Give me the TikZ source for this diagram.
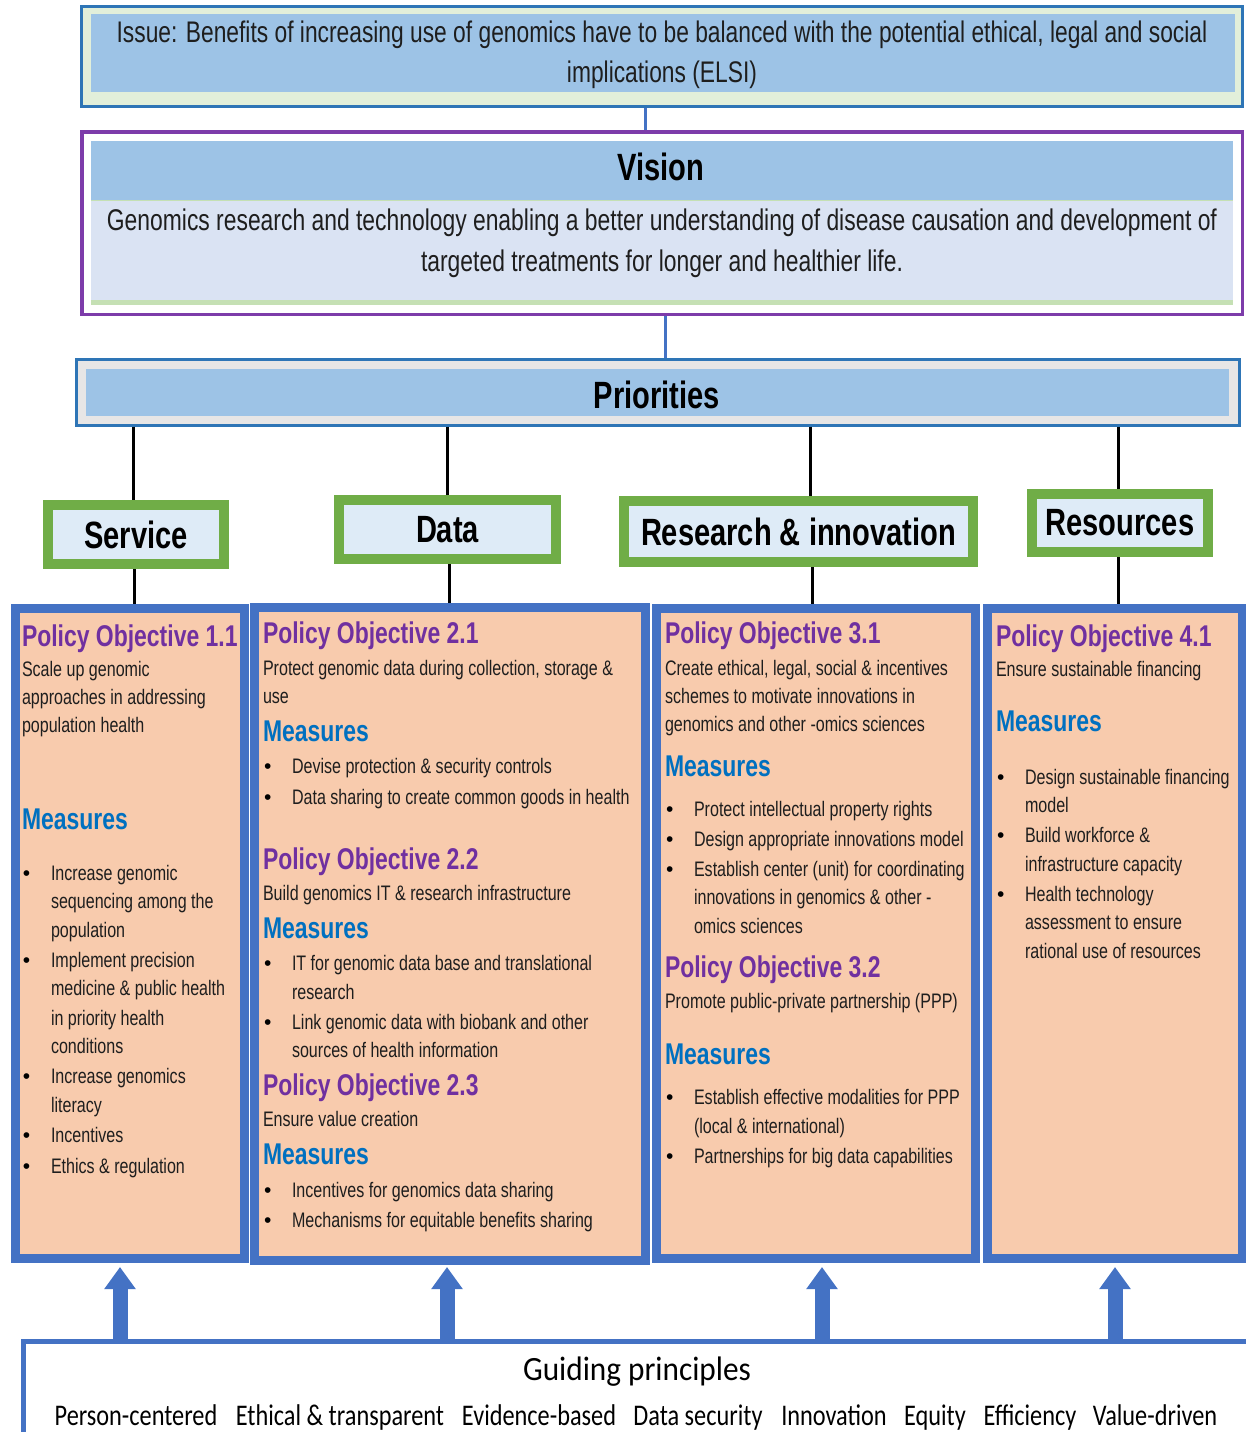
\documentclass[tikz,border=0pt]{standalone}
\usepackage{fontspec}
\setmainfont{Liberation Sans}
\newfontfamily\nar{Liberation Sans}[FakeStretch=0.765]
\newfontfamily\carlA{Carlito}[FakeStretch=0.92]
\newfontfamily\carlB{Carlito}[FakeStretch=0.81]
\usetikzlibrary{arrows.meta}
\definecolor{issueblue}{RGB}{46,117,182}
\definecolor{issuegreen}{RGB}{226,239,218}
\definecolor{midblue}{RGB}{157,195,230}
\definecolor{visionpurple}{RGB}{125,60,170}
\definecolor{lavender}{RGB}{218,227,243}
\definecolor{lightgreen}{RGB}{197,224,180}
\definecolor{priogrey}{RGB}{231,230,230}
\definecolor{catgreen}{RGB}{112,173,71}
\definecolor{catfill}{RGB}{222,235,247}
\definecolor{colblue}{RGB}{68,114,196}
\definecolor{peach}{RGB}{248,203,173}
\definecolor{purp}{RGB}{112,48,160}
\definecolor{measblue}{RGB}{0,112,192}
\definecolor{bodytxt}{RGB}{30,30,30}
\newcommand\BL[5]{\node[bul] (#1b) at (#2,#4) {\textbullet}; \node[body] (#1) at (#3,#4) {#5};}
\begin{document}
\begin{tikzpicture}[x=1pt,y=-1pt,
  box/.style={rectangle,inner sep=0,outer sep=0},
  body/.style={anchor=base west,inner sep=0,outer sep=0,font=\nar\fontsize{21}{25}\selectfont,text=bodytxt},
  bul/.style={anchor=base west,inner sep=0,outer sep=0,font=\fontsize{21}{25}\selectfont,text=black},
  pot/.style={anchor=base west,inner sep=0,outer sep=0,font=\nar\bfseries\fontsize{30}{34}\selectfont,text=purp},
  meas/.style={anchor=base west,inner sep=0,outer sep=0,font=\nar\bfseries\fontsize{30}{34}\selectfont,text=measblue},
  catbox/.style={box,draw=catgreen,line width=10pt,fill=catfill,outer sep=5pt,font=\nar\bfseries\fontsize{38}{42}\selectfont},
  colbox/.style={box,draw=colblue,line width=9pt,fill=peach,outer sep=4.5pt},
  blackline/.style={draw=black,line width=3pt},
  blueline/.style={draw=colblue,line width=3pt},
  bigarrow/.style={draw=colblue,line width=15pt,-{Triangle[width=30pt,length=22pt]}},
  gpword/.style={anchor=base,inner sep=0,font=\carlB\fontsize{30}{34}\selectfont,text=black}
]
\useasboundingbox (0,0) rectangle (1246,1432);
\fill[white] (0,0) rectangle (1246,1432);

% ---------- Issue ----------
\node[box,draw=issueblue,line width=3pt,fill=issuegreen,minimum width=1161pt,minimum height=100pt,outer sep=1.5pt] (issue) at (662,56.5) {};
\node[box,fill=midblue,minimum width=1144pt,minimum height=78pt] (issuein) at (663,53) {};
\node[inner sep=0,align=center,font=\nar\fontsize{29.8}{40}\selectfont,text=bodytxt] (issuetxt) at (662,55)
  {Issue: Benefits of increasing use of genomics have to be balanced with the potential ethical, legal and social\\implications (ELSI)};

% ---------- Vision ----------
\node[box,draw=visionpurple,line width=3.5pt,fill=white,minimum width=1160.5pt,minimum height=182.5pt,outer sep=1.75pt] (vision) at (662,223) {};
\node[box,fill=lightgreen,minimum width=1142pt,minimum height=164pt] (visionbg) at (661.5,223) {};
\node[box,fill=lavender,minimum width=1142pt,minimum height=99pt] (visionlow) at (661.5,250.5) {};
\node[box,fill=midblue,minimum width=1142pt,minimum height=59pt] (visionhead) at (661.5,170.5) {};
\node[inner sep=0,font=\nar\bfseries\fontsize{38}{42}\selectfont,text=black] (visiontitle) at (661,167) {Vision};
\node[inner sep=0,align=center,font=\nar\fontsize{29.9}{41}\selectfont,text=bodytxt] (visiontxt) at (662,243)
  {Genomics research and technology enabling a better understanding of disease causation and development of\\targeted treatments for longer and healthier life.};

% ---------- Priorities ----------
\node[box,draw=issueblue,line width=3pt,fill=priogrey,minimum width=1163pt,minimum height=66pt,outer sep=1.5pt] (prio) at (657.5,392) {};
\node[box,fill=midblue,minimum width=1143pt,minimum height=47pt] (prioin) at (657.5,392.5) {};
\node[inner sep=0,font=\nar\bfseries\fontsize{38}{42}\selectfont,text=black] (priotitle) at (657,395) {Priorities};

\draw[blueline] (issue.south -| 645,0) -- (vision.north -| 645,0);
\draw[blueline] (vision.south -| 665,0) -- (prio.north -| 665,0);

% ---------- Categories ----------
\node[catbox,minimum width=176pt,minimum height=59pt] (svc) at (136,534.5) {Service};
\node[catbox,minimum width=217pt,minimum height=59pt] (data) at (447.5,529.5) {Data};
\node[catbox,minimum width=349pt,minimum height=61pt] (res) at (798.5,531.5) {Research \& innovation};
\node[catbox,minimum width=176pt,minimum height=58pt] (rsc) at (1120,523) {Resources};

\coordinate (p1) at (133,0);
\coordinate (p2) at (447,0);
\coordinate (p3) at (810,0);
\coordinate (p4) at (1118,0);
\draw[blackline] (prio.south -| p1) -- (svc.north -| p1);
\draw[blackline] (prio.south -| p2) -- (data.north -| p2);
\draw[blackline] (prio.south -| p3) -- (res.north -| p3);
\draw[blackline] (prio.south -| p4) -- (rsc.north -| p4);

% ---------- Columns ----------
\node[colbox,minimum width=229pt,minimum height=650pt] (col1) at (129.5,933.5) {};
\node[colbox,minimum width=391pt,minimum height=653pt] (col2) at (449.5,934) {};
\node[colbox,minimum width=319pt,minimum height=650pt] (col3) at (816,933.5) {};
\node[colbox,minimum width=255pt,minimum height=650pt] (col4) at (1115,933.5) {};

\coordinate (q1) at (134,0);
\coordinate (q2) at (449,0);
\coordinate (q3) at (812,0);
\coordinate (q4) at (1118,0);
\draw[blackline] (svc.south -| q1) -- (col1.north -| q1);
\draw[blackline] (data.south -| q2) -- (col2.north -| q2);
\draw[blackline] (res.south -| q3) -- (col3.north -| q3);
\draw[blackline] (rsc.south -| q4) -- (col4.north -| q4);

% ---------- Column 1 ----------
\node[pot] (po11) at (22,646) {Policy Objective 1.1};
\node[body] (c1a) at (22,676) {Scale up genomic};
\node[body] (c1b) at (22,704) {approaches in addressing};
\node[body] (c1c) at (22,732) {population health};
\node[meas] (m11) at (22,829) {Measures};
\BL{c1d}{23}{51}{880}{Increase genomic}
\node[body] (c1e) at (51,908) {sequencing among the};
\node[body] (c1f) at (51,937) {population};
\BL{c1g}{23}{51}{967}{Implement precision}
\node[body] (c1h) at (51,995) {medicine \& public health};
\node[body] (c1i) at (51,1025) {in priority health};
\node[body] (c1j) at (51,1053) {conditions};
\BL{c1k}{23}{51}{1083}{Increase genomics}
\node[body] (c1l) at (51,1112) {literacy};
\BL{c1m}{23}{51}{1142}{Incentives}
\BL{c1n}{23}{51}{1173}{Ethics \& regulation}

% ---------- Column 2 ----------
\node[pot] (po21) at (263,643) {Policy Objective 2.1};
\node[body] (c2a) at (263,675) {Protect genomic data during collection, storage \&};
\node[body] (c2b) at (263,703) {use};
\node[meas] (m21) at (263,741) {Measures};
\BL{c2c}{264}{292}{773}{Devise protection \& security controls}
\BL{c2d}{264}{292}{804}{Data sharing to create common goods in health}
\node[pot] (po22) at (263,869) {Policy Objective 2.2};
\node[body] (c2e) at (263,900) {Build genomics IT \& research infrastructure};
\node[meas] (m22) at (263,938) {Measures};
\BL{c2f}{264}{292}{970}{IT for genomic data base and translational}
\node[body] (c2g) at (292,999) {research};
\BL{c2h}{264}{292}{1029}{Link genomic data with biobank and other}
\node[body] (c2i) at (292,1057) {sources of health information};
\node[pot] (po23) at (263,1095) {Policy Objective 2.3};
\node[body] (c2j) at (263,1126) {Ensure value creation};
\node[meas] (m23) at (263,1164) {Measures};
\BL{c2k}{264}{292}{1197}{Incentives for genomics data sharing}
\BL{c2l}{264}{292}{1227}{Mechanisms for equitable benefits sharing}

% ---------- Column 3 ----------
\node[pot] (po31) at (665,643) {Policy Objective 3.1};
\node[body] (c3a) at (665,675) {Create ethical, legal, social \& incentives};
\node[body] (c3b) at (665,703) {schemes to motivate innovations in};
\node[body] (c3c) at (665,731) {genomics and other -omics sciences};
\node[meas] (m31) at (665,776) {Measures};
\BL{c3d}{666}{694}{816}{Protect intellectual property rights}
\BL{c3e}{666}{694}{846}{Design appropriate innovations model}
\BL{c3f}{666}{694}{876}{Establish center (unit) for coordinating}
\node[body] (c3g) at (694,904) {innovations in genomics \& other -};
\node[body] (c3h) at (694,933) {omics sciences};
\node[pot] (po32) at (665,977) {Policy Objective 3.2};
\node[body] (c3i) at (665,1008) {Promote public-private partnership (PPP)};
\node[meas] (m32) at (665,1064) {Measures};
\BL{c3j}{666}{694}{1104}{Establish effective modalities for PPP}
\node[body] (c3k) at (694,1133) {(local \& international)};
\BL{c3l}{666}{694}{1163}{Partnerships for big data capabilities}

% ---------- Column 4 ----------
\node[pot] (po41) at (996,646) {Policy Objective 4.1};
\node[body] (c4a) at (996,676) {Ensure sustainable financing};
\node[meas] (m41) at (996,731) {Measures};
\BL{c4b}{997}{1025}{784}{Design sustainable financing}
\node[body] (c4c) at (1025,812) {model};
\BL{c4d}{997}{1025}{842}{Build workforce \&}
\node[body] (c4e) at (1025,871) {infrastructure capacity};
\BL{c4f}{997}{1025}{901}{Health technology}
\node[body] (c4g) at (1025,929) {assessment to ensure};
\node[body] (c4h) at (1025,958) {rational use of resources};

% ---------- Guiding principles ----------
\node[box,draw=colblue,line width=5pt,minimum width=1260pt,minimum height=200pt,outer sep=2.5pt,anchor=north west] (gp) at (20.5,1339) {};
\coordinate (a1) at (120,1267);
\coordinate (a2) at (447,1267);
\coordinate (a3) at (822,1267);
\coordinate (a4) at (1115,1267);
\draw[bigarrow] (gp.north -| a1) -- (a1);
\draw[bigarrow] (gp.north -| a2) -- (a2);
\draw[bigarrow] (gp.north -| a3) -- (a3);
\draw[bigarrow] (gp.north -| a4) -- (a4);
\node[anchor=base,inner sep=0,font=\carlA\fontsize{34}{38}\selectfont,text=black] (gptitle) at (637,1380) {Guiding principles};
\node[gpword] (g1) at (136,1425) {Person-centered};
\node[gpword] (g2) at (340,1425) {Ethical \& transparent};
\node[gpword] (g3) at (539,1425) {Evidence-based};
\node[gpword] (g4) at (698,1425) {Data security};
\node[gpword] (g5) at (834,1425) {Innovation};
\node[gpword] (g6) at (935,1425) {Equity};
\node[gpword] (g7) at (1030,1425) {Efficiency};
\node[gpword] (g8) at (1155,1425) {Value-driven};
\end{tikzpicture}
\end{document}
